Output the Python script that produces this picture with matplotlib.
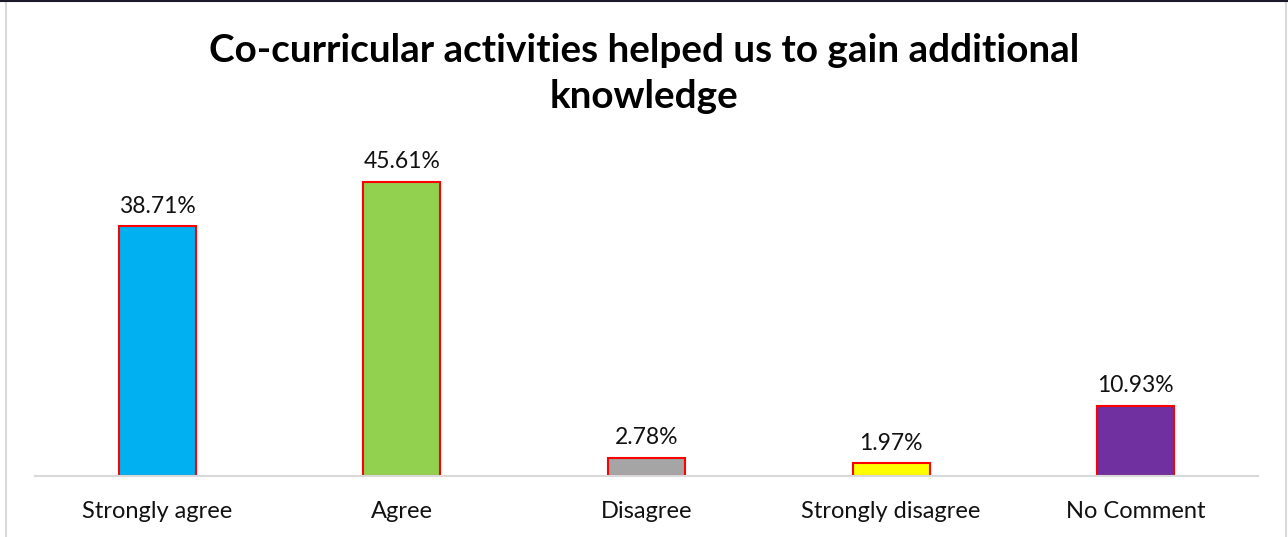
import matplotlib
matplotlib.use('Agg')
import matplotlib.pyplot as plt
from matplotlib.patches import Rectangle
from matplotlib.lines import Line2D

# datos
categorias = ['Strongly agree', 'Agree', 'Disagree', 'Strongly disagree', 'No Comment']
porcentajes = [38.71, 45.61, 2.78, 1.97, 10.93]
etiquetas = ['38.71%', '45.61%', '2.78%', '1.97%', '10.93%']
colores = ['#00B0F0', '#92D050', '#A5A5A5', '#FFFF00', '#7030A0']

plt.rcParams['font.family'] = ['Lato', 'DejaVu Sans']

fig = plt.figure(figsize=(12.88, 5.37), dpi=100)
ax = fig.add_axes([35 / 1288, 61 / 537, 1223 / 1288, 322.5 / 537])

x = list(range(len(categorias)))
ax.bar(x, porcentajes, width=0.315, color=colores, edgecolor='#FF0000', linewidth=1.5)

for xi, v, txt in zip(x, porcentajes, etiquetas):
    ax.annotate(txt, (xi, v), xytext=(0, 7), textcoords='offset points',
                ha='center', va='bottom', fontsize=16.5, color='#111111')

ax.set_xlim(-0.5, len(categorias) - 0.5)
ax.set_ylim(0, 50)
ax.set_xticks(x)
ax.set_xticklabels(categorias, fontsize=17, color='#111111')
ax.tick_params(axis='x', length=0, pad=18)
ax.set_yticks([])
for s in ['top', 'right', 'left']:
    ax.spines[s].set_visible(False)
ax.spines['bottom'].set_color('#D9D9D9')
ax.spines['bottom'].set_linewidth(1.5)

fig.text(0.5, 1 - 50 / 537, 'Co-curricular activities helped us to gain additional',
         ha='center', va='center', fontsize=27.8, fontweight='bold')
fig.text(0.5, 1 - 97 / 537, 'knowledge',
         ha='center', va='center', fontsize=27.8, fontweight='bold')

# borde del area del grafico
fig.patches.append(Rectangle((6 / 1288, -0.01), 1280 / 1288, 1.02, transform=fig.transFigure,
                             fill=False, edgecolor='#D9D9D9', linewidth=1.5))
fig.lines.append(Line2D([0, 1], [0.998, 0.998], transform=fig.transFigure,
                        color='#1a1a2a', linewidth=1.5))

plt.savefig('out.png', dpi=100)
